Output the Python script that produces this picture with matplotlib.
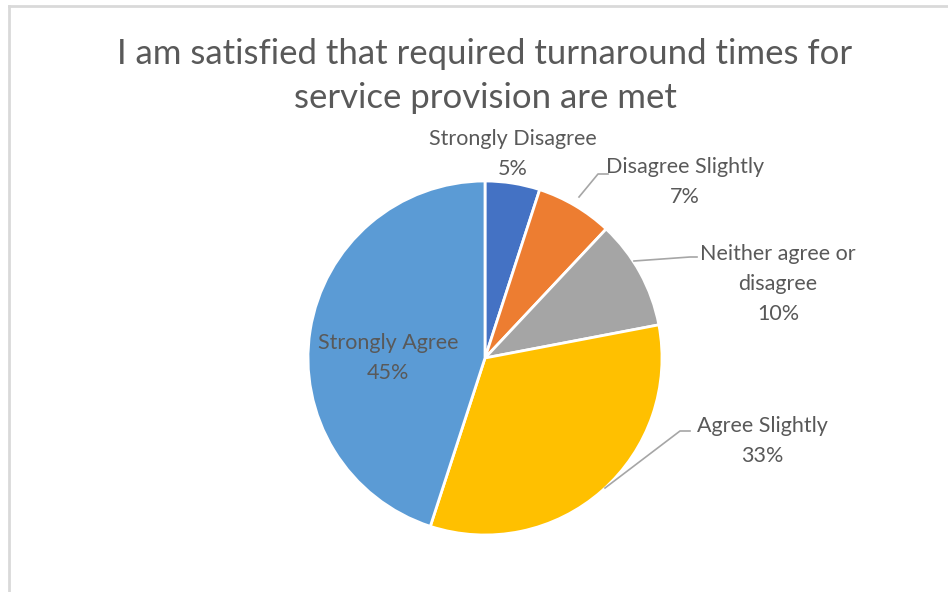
import numpy as np
import matplotlib
matplotlib.use("Agg")
import matplotlib.pyplot as plt
from matplotlib.lines import Line2D

plt.rcParams['font.family'] = ['Lato', 'DejaVu Sans']

# data, clockwise from 12 o'clock
labels = ['Strongly Disagree', 'Disagree Slightly', 'Neither agree or\ndisagree',
          'Agree Slightly', 'Strongly Agree']
values = [5, 7, 10, 33, 45]
colors = ['#4472C4', '#ED7D31', '#A5A5A5', '#FFC000', '#5B9BD5']
title = 'I am satisfied that required turnaround times for\nservice provision are met'

W, H = 948, 592
fig = plt.figure(figsize=(W / 100, H / 100), dpi=100)
txt = '#595959'

# chart border (partly cut off on right/bottom)
fig.add_artist(Line2D([9 / W, 1], [1 - 6 / H, 1 - 6 / H], color='#D9D9D9', lw=2))
fig.add_artist(Line2D([9 / W, 9 / W], [0, 1 - 6 / H], color='#D9D9D9', lw=2))

fig.text(485 / W, 1 - 76 / H, title, ha='center', va='center', fontsize=25,
         color=txt, linespacing=1.5)

# pie axes: centre (485, 358) px, radius 177 px
cx, cy, R = 485, 358, 177
ax = fig.add_axes([(cx - R) / W, (H - cy - R) / H, 2 * R / W, 2 * R / H])
wedges, _ = ax.pie(values, colors=colors, startangle=90, counterclock=False,
                   radius=1, wedgeprops=dict(edgecolor='white', linewidth=2))
ax.set_xlim(-1, 1)
ax.set_ylim(-1, 1)
ax.set_aspect('equal')
ax.axis('off')


def px(x, y):
    return (x - cx) / R, (cy - y) / R


# label centres (px) and leader elbows
label_pos = [(513, 154), (685, 182), (778, 284), (762, 441), (388, 358)]
elbows = [None, [(598, 174), (608, 174)], [(690, 257), (697, 257)],
          [(680, 431), (690, 431)], None]
starts = [None, (579, 197), (634, 261), (605, 488), None]

for lab, v, (lx, ly), el, st in zip(labels, values, label_pos, elbows, starts):
    x, y = px(lx, ly)
    ax.text(x, y, f'{lab}\n{v}%', ha='center', va='center', fontsize=15.5,
            color=txt, linespacing=1.6, clip_on=False)
    if el:
        pts = [px(*st)] + [px(*p) for p in el]
        ax.plot([p[0] for p in pts], [p[1] for p in pts], color='#A6A6A6',
                lw=1.2, clip_on=False)

fig.savefig('out.png', dpi=100)
